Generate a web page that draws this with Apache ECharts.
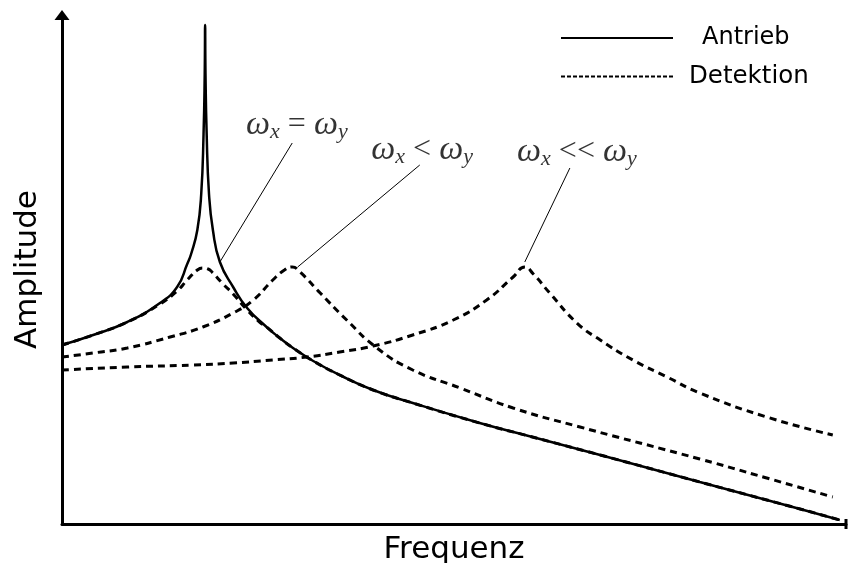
<!DOCTYPE html>
<html>
<head>
<meta charset="utf-8">
<script src="https://cdn.jsdelivr.net/npm/echarts@6/dist/echarts.min.js"></script>
<style>
  html, body { margin: 0; padding: 0; background: #fff; }
  #chart { width: 848px; height: 563px; }
</style>
</head>
<body>
<div id="chart"></div>
<script>
// Frequenz (x) / Amplitude (y), beliebige Einheiten
const antrieb = [
  [0, 35.8], [4, 37.8], [8.4, 40.4], [12.6, 44.2], [14.8, 47.4], [16.1, 52], [16.6, 54],
  [17.4, 58.8], [17.9, 66], [18.2, 78], [18.35, 90], [18.4, 99.8], [18.45, 90], [18.6, 78],
  [18.9, 66], [19.4, 58.8], [20.3, 52.4], [22, 47.4], [23.8, 43.2], [26.3, 39.4], [28, 37.2],
  [29.7, 35.2], [32.3, 32.6], [35.7, 29.8], [40, 26.8], [45.1, 24.2], [53.7, 20.2], [60, 17.6],
  [69.2, 13.8], [82, 8.4], [94.9, 3], [100, 0.8]
];
// omega_x = omega_y
const detGleich = [
  [0, 35.8], [4, 37.8], [8.4, 40.4], [12.6, 44], [14.8, 46.6], [16.1, 48.8], [17.4, 50.8],
  [18.1, 51.2], [18.8, 51], [19.4, 50.2], [20.7, 48], [22, 46], [23.8, 42.8], [25.4, 40.4],
  [26.3, 39.4], [28, 37.2], [29.7, 35.2], [32.3, 32.6], [35.7, 29.8], [40, 26.8], [45.1, 24.2],
  [53.7, 20.2], [60, 17.6], [69.2, 13.8], [82, 8.4], [94.9, 3], [100, 0.8]
];
// omega_x < omega_y
const detKleiner = [
  [0, 33.4], [4, 34.2], [8.4, 35.2], [13.9, 37.4], [18.1, 39.4], [22, 42.2], [24.6, 44.8],
  [27.1, 48.8], [28.6, 50.8], [29.6, 51.4], [30.6, 50.4], [33.2, 46.2], [36.6, 40.8],
  [40.5, 35.2], [45.1, 30.8], [51.2, 27.2], [58, 23.2], [66.6, 19.4], [82, 13], [90.6, 9.2],
  [99.1, 5.4]
];
// omega_x << omega_y
const detViel = [
  [0, 30.8], [8.4, 31.4], [16.8, 31.8], [22, 32.2], [27.1, 32.8], [31.5, 33.4], [35.7, 34.4],
  [40, 35.6], [45.1, 37.8], [50.3, 40.8], [54.6, 44.8], [58, 49.4], [59.5, 51.4], [60.6, 50],
  [62.7, 46.2], [66.2, 40.2], [69.2, 36.8], [73.4, 32.8], [77.8, 29.4], [82, 26.2],
  [90.6, 21.4], [99.1, 17.8]
];

// Beschriftungen: Position (x, y) und Relation
const labelPos = [[30.2, 79.8], [46.3, 74.8], [66.2, 74.4]];
const labelRel = ['=', '<', '<<'];
// Hinweislinien: von Beschriftung zur Spitze
const leaderFrom = [[29.6, 76.2], [46, 71.8], [65.3, 71.2]];
const leaderTo = [[20.3, 52.4], [30.3, 51.4], [59.5, 52.4]];

const solidStyle = { color: '#000', width: 2.5, type: 'solid' };
const dashStyle = { color: '#000', width: 3, type: [7, 5] };

function curve(name, data, style, z) {
  return {
    name: name,
    type: 'line',
    data: data,
    symbol: 'none',
    smooth: 0.5,
    lineStyle: style,
    itemStyle: { color: '#000' },
    z: z,
    silent: true,
    animation: false
  };
}

const chart = echarts.init(document.getElementById('chart'));

const annotData = labelPos.map((p, i) => ({ value: p, rel: labelRel[i] }));

chart.setOption({
  animation: false,
  backgroundColor: '#fff',
  grid: { left: 62, right: 2, top: 15, bottom: 39, outerBoundsMode: 'none', containLabel: false },
  legend: {
    data: [
      { name: 'Antrieb', lineStyle: { width: 2 } },
      { name: 'Detektion', lineStyle: { width: 2, type: [4, 2] } }
    ],
    orient: 'vertical',
    left: 555,
    top: 21,
    itemWidth: 112,
    itemHeight: 24,
    itemGap: 14,
    selectedMode: false,
    itemStyle: { color: 'rgba(0,0,0,0)', borderWidth: 0, opacity: 0 },
    formatter: name => name === 'Antrieb' ? '{a|' + name + '}' : '{d|' + name + '}',
    textStyle: {
      fontFamily: 'DejaVu Sans',
      fontSize: 24,
      color: '#000',
      rich: {
        a: { fontFamily: 'DejaVu Sans', fontSize: 24, lineHeight: 24, color: '#000', padding: [0, 0, 0, 24] },
        d: { fontFamily: 'DejaVu Sans', fontSize: 24.5, lineHeight: 24, color: '#000', padding: [0, 0, 0, 11] }
      }
    }
  },
  xAxis: {
    type: 'value',
    min: 0,
    max: 100.8,
    name: 'Frequenz',
    nameLocation: 'middle',
    nameGap: 10,
    nameTextStyle: { fontFamily: 'DejaVu Sans', fontSize: 31, color: '#000', verticalAlign: 'top' },
    axisLine: {
      lineStyle: { color: '#000', width: 3 },
      symbol: ['none', 'rect'],
      symbolSize: [10, 3]
    },
    axisTick: { show: false },
    axisLabel: { show: false },
    splitLine: { show: false }
  },
  yAxis: {
    type: 'value',
    min: 0,
    max: 101.8,
    name: 'Amplitude',
    nameLocation: 'middle',
    nameGap: 19,
    nameTextStyle: { fontFamily: 'DejaVu Sans', fontSize: 31, color: '#000' },
    axisLine: {
      lineStyle: { color: '#000', width: 3 },
      symbol: ['none', 'triangle'],
      symbolSize: [15, 10]
    },
    axisTick: { show: false },
    axisLabel: { show: false },
    splitLine: { show: false }
  },
  series: [
    curve('Antrieb', antrieb, solidStyle, 3),
    curve('Detektion', detGleich, dashStyle, 2),
    curve('Detektion', detKleiner, dashStyle, 2),
    curve('Detektion', detViel, dashStyle, 2),
    {
      name: 'annot',
      type: 'scatter',
      data: annotData,
      symbolSize: 0,
      silent: true,
      label: {
        show: true,
        position: 'inside',
        color: '#000',
        formatter: p => '{w|ω}{s|x}{r| ' + p.data.rel + ' }{w|ω}{s|y}',
        rich: {
          w: { fontFamily: 'Liberation Serif', fontStyle: 'italic', fontSize: 34, color: '#000', lineHeight: 36 },
          s: { fontFamily: 'Liberation Serif', fontStyle: 'italic', fontSize: 22, color: '#000', lineHeight: 14, verticalAlign: 'bottom' },
          r: { fontFamily: 'Liberation Serif', fontSize: 32, color: '#000', lineHeight: 36 }
        }
      },
      markLine: {
        silent: true,
        symbol: ['none', 'none'],
        label: { show: false },
        lineStyle: { color: '#000', width: 1, type: 'solid' },
        data: leaderFrom.map((f, i) => [{ coord: f }, { coord: leaderTo[i] }])
      }
    }
  ]
});
</script>
</body>
</html>
